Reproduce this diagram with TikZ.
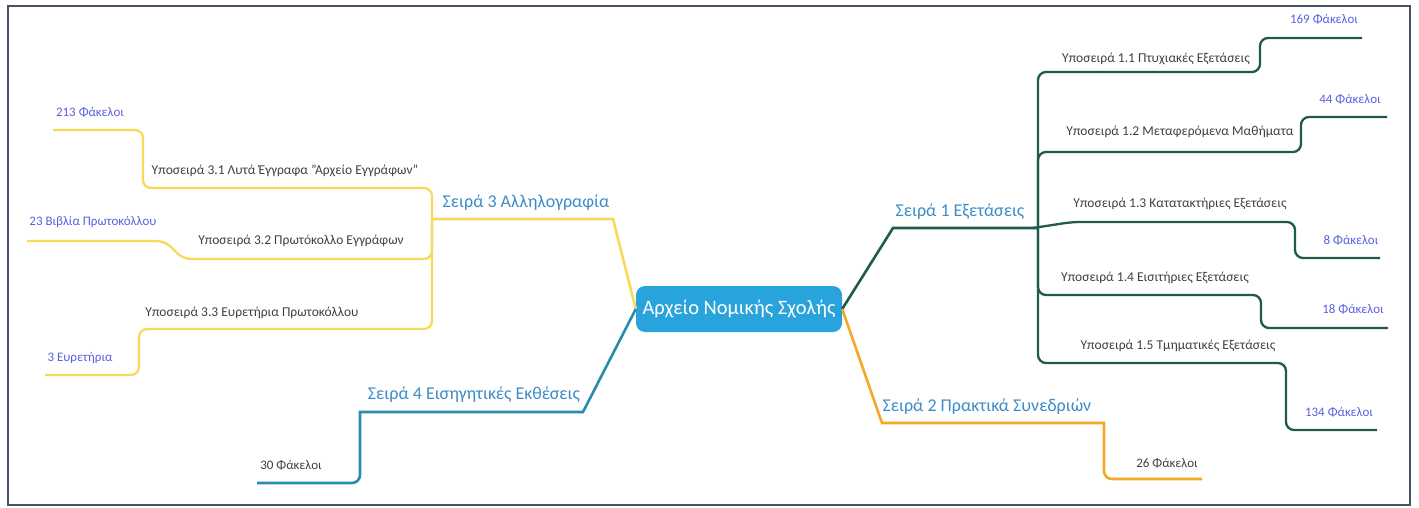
\documentclass[tikz,border=0pt]{standalone}
\usepackage{fontspec}
\setmainfont{Carlito}
\definecolor{rootfill}{RGB}{40,163,220}
\definecolor{sone}{RGB}{30,90,80}
\definecolor{stwo}{RGB}{245,168,40}
\definecolor{sthree}{RGB}{248,218,90}
\definecolor{sfour}{RGB}{40,140,175}
\definecolor{sertext}{RGB}{60,140,200}
\definecolor{leafblue}{RGB}{90,95,225}
\definecolor{graytext}{RGB}{64,64,64}
\definecolor{framecol}{RGB}{70,82,98}
\begin{document}
\begin{tikzpicture}[x=1pt,y=-1pt,
  rootbox/.style={fill=rootfill, text=white, rounded corners=9pt, minimum width=206pt, minimum height=46pt, inner sep=0pt, font=\fontsize{20.5}{23}\selectfont},
  sertxt/.style={text=sertext, inner sep=0pt, font=\fontsize{18}{20}\selectfont},
  subtxt/.style={text=graytext, inner sep=0pt, font=\fontsize{13.5}{15}\selectfont},
  leaftxt/.style={text=leafblue, inner sep=0pt, font=\fontsize{13}{15}\selectfont},
  leafgray/.style={text=graytext, inner sep=0pt, font=\fontsize{13}{15}\selectfont},
  mainline/.style={line width=2.6pt},
  subline/.style={line width=2.3pt, rounded corners=8pt},
  frameline/.style={draw=framecol, line width=1.8pt}]
\useasboundingbox (0,0) rectangle (1419,508);
\draw[frameline] (8,6) rectangle (1410,505);

% root
\node[rootbox] (root) at (739,309) {Αρχείο Νομικής Σχολής};

% series labels
\node[sertxt] (s1) at (960,212) {Σειρά 1 Εξετάσεις};
\node[sertxt] (s2) at (987,407) {Σειρά 2 Πρακτικά Συνεδριών};
\node[sertxt] (s3) at (526,203) {Σειρά 3 Αλληλογραφία};
\node[sertxt] (s4) at (474,395) {Σειρά 4 Εισηγητικές Εκθέσεις};

% sub-series labels
\node[subtxt] (u11) at (1156,59) {Υποσειρά 1.1 Πτυχιακές Εξετάσεις};
\node[subtxt] (u12) at (1180,132) {Υποσειρά 1.2 Μεταφερόμενα Μαθήματα};
\node[subtxt] (u13) at (1180,204) {Υποσειρά 1.3 Κατατακτήριες Εξετάσεις};
\node[subtxt] (u14) at (1155,278) {Υποσειρά 1.4 Εισιτήριες Εξετάσεις};
\node[subtxt] (u15) at (1178,346) {Υποσειρά 1.5 Τμηματικές Εξετάσεις};
\node[subtxt] (u31) at (285,171) {Υποσειρά 3.1 Λυτά Έγγραφα "Αρχείο Εγγράφων"};
\node[subtxt] (u32) at (301,241) {Υποσειρά 3.2 Πρωτόκολλο Εγγράφων};
\node[subtxt] (u33) at (252,313) {Υποσειρά 3.3 Ευρετήρια Πρωτοκόλλου};

% leaves
\node[leaftxt] (l11) at (1324,19) {169 Φάκελοι};
\node[leaftxt] (l12) at (1350,99) {44 Φάκελοι};
\node[leaftxt] (l13) at (1351,240) {8 Φάκελοι};
\node[leaftxt] (l14) at (1353,309) {18 Φάκελοι};
\node[leaftxt] (l15) at (1339,412) {134 Φάκελοι};
\node[leafgray] (l2) at (1167,463) {26 Φάκελοι};
\node[leaftxt] (l31) at (90,112) {213 Φάκελοι};
\node[leaftxt] (l32) at (93,222) {23 Βιβλία Πρωτοκόλλου};
\node[leaftxt] (l33) at (80,358) {3 Ευρετήρια};
\node[leafgray] (l4) at (291,465) {30 Φάκελοι};

% junctions and free ends
\coordinate (j1) at (1038,228);
\coordinate (j3) at (432,219);
\coordinate (e11) at (1362,38);
\coordinate (e12) at (1387,117);
\coordinate (e13) at (1380,258);
\coordinate (e14) at (1388,328);
\coordinate (e15) at (1377,430);
\coordinate (e2) at (1202,479);
\coordinate (e31) at (53,130);
\coordinate (e32) at (27,241);
\coordinate (e33) at (45,375);
\coordinate (e4) at (257,483);

% Series 1
\draw[mainline, sone] (root.east) -- (893,228) -- (j1);
\draw[subline, sone] (j1) |- (1260,72) |- (e11);
\draw[subline, sone] (j1) |- (1301,152) |- (e12);
\draw[subline, sone] (1033,228) -- (1072,222) -- (1295,222) |- (e13);
\draw[subline, sone] (j1) |- (1261,295) |- (e14);
\draw[subline, sone] (j1) |- (1286,363) |- (e15);

% Series 2
\draw[mainline, stwo] (root.east) -- (882,423) -- (1104,423) [rounded corners=8pt] |- (e2);

% Series 3
\draw[mainline, sthree] (root.west) -- (613,219) -- (j3);
\draw[subline, sthree] (j3) |- (143,188) |- (e31);
\draw[subline, sthree] (j3) |- (183,259) -- (165,241) -- (e32);
\draw[subline, sthree] (j3) |- (139,329) |- (e33);

% Series 4
\draw[mainline, sfour] (root.west) -- (583,412) -- (360,412) [rounded corners=8pt] |- (e4);
\end{tikzpicture}
\end{document}
